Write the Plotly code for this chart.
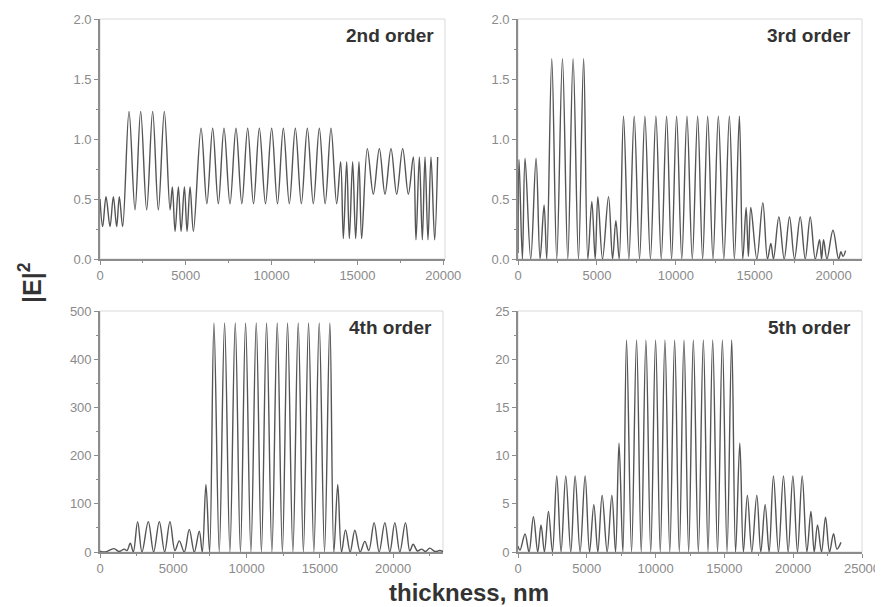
import plotly.graph_objects as go

# ---------------- data (extrema) ----------------
# 2nd order
x_2nd = [0, 155, 350, 583, 777, 971, 1126, 1320,
         1690, 2039, 2369, 2719, 3068, 3399, 3748, 4081,
         4217, 4373, 4567, 4723, 4917, 5072, 5247, 5442,
         5888, 6226, 6564, 6894, 7224, 7574, 7923, 8263, 8603, 8943, 9283, 9642,
         10001, 10341, 10681, 11030, 11380, 11730, 12079, 12428, 12778, 13118, 13458, 13788,
         14021, 14177, 14371, 14526, 14720, 14895, 15089, 15245,
         15575, 15924, 16274, 16604, 16954, 17284, 17633, 17964,
         18255, 18410, 18605, 18779, 18935, 19109, 19284, 19498, 19672]
y_2nd = [0.50, 0.27, 0.52, 0.27, 0.52, 0.27, 0.52, 0.27,
         1.23, 0.41, 1.23, 0.41, 1.23, 0.41, 1.23, 0.41,
         0.60, 0.23, 0.60, 0.23, 0.60, 0.23, 0.60, 0.23,
         1.09, 0.46, 1.09, 0.46, 1.09, 0.46, 1.09, 0.46, 1.09, 0.46, 1.09, 0.46,
         1.09, 0.46, 1.09, 0.46, 1.09, 0.46, 1.09, 0.46, 1.09, 0.46, 1.09, 0.46,
         0.81, 0.17, 0.81, 0.17, 0.81, 0.17, 0.81, 0.17,
         0.92, 0.54, 0.92, 0.54, 0.92, 0.54, 0.92, 0.54,
         0.85, 0.16, 0.85, 0.16, 0.85, 0.16, 0.85, 0.16, 0.85]

# 3rd order
x_3rd = [0, 66, 277, 447, 806, 1145, 1399, 1653, 1822,
         2140, 2457, 2817, 3155, 3491, 3833, 4160, 4425,
         4679, 4891, 5060, 5356, 5737, 5991, 6203, 6414,
         6687, 7025, 7364, 7702, 8041, 8390, 8739, 9077, 9416, 9733, 10051, 10379,
         10707, 11045, 11384, 11701, 12019, 12357, 12696, 13045, 13395, 13712, 14029, 14245,
         14457, 14600, 14754, 15136, 15516, 15810, 16024, 16190,
         16532, 16869, 17206, 17524, 17885, 18203, 18520, 18838,
         19110, 19237, 19364, 19579, 19960, 20316, 20468, 20595, 20761]
y_3rd = [0.05, 0.83, 0, 0.84, 0, 0.84, 0, 0.45, 0,
         1.67, 0, 1.67, 0, 1.67, 0, 1.67, 0,
         0.48, 0, 0.52, 0, 0.52, 0, 0.32, 0,
         1.19, 0, 1.19, 0, 1.19, 0, 1.19, 0, 1.19, 0, 1.19, 0,
         1.19, 0, 1.19, 0, 1.19, 0, 1.19, 0, 1.19, 0, 1.19, 0,
         0.43, 0.02, 0.43, 0, 0.47, 0, 0.13, 0,
         0.35, 0, 0.35, 0, 0.35, 0, 0.35, 0,
         0.16, 0, 0.16, 0, 0.24, 0, 0.06, 0.02, 0.07]

# 4th order
x_4th = [0, 341, 955, 1295, 1659, 1841, 2068, 2273,
         2568, 2864, 3295, 3659, 4046, 4409, 4773, 5114,
         5409, 5750, 6091, 6432, 6773, 6977, 7227, 7477,
         7773, 8136, 8500, 8863, 9227, 9580, 9932, 10295, 10659, 11011, 11364, 11727,
         12091, 12443, 12795, 13159, 13523, 13875, 14227, 14591, 14955, 15318, 15682, 15955,
         16220, 16477, 16750, 17068, 17386, 17750, 18068, 18341,
         18700, 19045, 19432, 19773, 20114, 20455, 20841, 21136,
         21364, 21659, 21932, 22205, 22500, 22841, 23182, 23409]
y_4th = [2, 0, 7, 1, 6, 3, 18, 0,
         63, 0, 63, 0, 63, 0, 63, 3,
         23, 0, 47, 0, 43, 0, 140, 0,
         475, 0, 475, 0, 475, 0, 475, 0, 475, 0, 475, 0,
         475, 0, 475, 0, 475, 0, 475, 0, 475, 0, 475, 0,
         140, 0, 46, 0, 45, 0, 22, 3,
         61, 0, 61, 0, 61, 0, 61, 2,
         16, 2, 6, 1, 8, 1, 3, 1]

# 5th order
x_5th = [0, 146, 510, 801, 1121, 1434, 1674, 1922, 2213, 2504,
         2817, 3130, 3472, 3836, 4150, 4514, 4878, 5198,
         5511, 5802, 6115, 6479, 6821, 7091, 7340, 7622,
         7888, 8252, 8616, 8955, 9295, 9647, 9999, 10339, 10679, 11031, 11383, 11722,
         12062, 12402, 12742, 13106, 13470, 13810, 14149, 14501, 14853, 15193, 15533, 15812,
         16120, 16380, 16671, 16991, 17355, 17646, 17960, 18251,
         18564, 18928, 19292, 19634, 19976, 20311, 20653, 20996,
         21287, 21527, 21767, 22058, 22349, 22640, 22932, 23179, 23471]
y_5th = [0.6, 0.2, 1.87, 0, 3.66, 0, 2.8, 0, 4.2, 0,
         7.9, 0, 7.9, 0, 7.9, 0, 7.9, 0,
         4.9, 0, 5.9, 0, 5.9, 0, 11.3, 0,
         22, 0, 22, 0, 22, 0, 22, 0, 22, 0, 22, 0,
         22, 0, 22, 0, 22, 0, 22, 0, 22, 0, 22, 0,
         11.3, 0, 5.9, 0, 5.9, 0, 4.9, 0,
         7.9, 0, 7.9, 0, 7.9, 0, 7.9, 0,
         4.2, 0, 2.8, 0, 3.6, 0, 1.9, 0.3, 1.0]

panel_labels = ["2nd order", "3rd order", "4th order", "5th order"]
x_ranges = [[0, 20100], [0, 21800], [0, 23400], [0, 25000]]
y_ranges = [[0, 2], [0, 2], [0, 500], [0, 25]]
y_dticks = [0.5, 0.5, 100, 5]
y_formats = [".1f", ".1f", "d", "d"]

# the page body adds an 8px margin, so the figure is drawn 8px smaller
OFF = 8
W, H = 883 - OFF, 607 - OFF
# pixel boxes in window coordinates (left, right, top, bottom)
boxes = [(100, 445, 19, 259), (518, 862, 19, 259), (100, 443, 311, 552), (518, 862, 311, 552)]

FONT = "Liberation Sans, Arial, sans-serif"
LINE = "#555555"
AXC = "#8c8c8c"

fig = go.Figure()
series = [(x_2nd, y_2nd), (x_3rd, y_3rd), (x_4th, y_4th), (x_5th, y_5th)]
for i, (xs, ys) in enumerate(series):
    sfx = "" if i == 0 else str(i + 1)
    fig.add_trace(go.Scatter(x=xs, y=ys, mode="lines", xaxis="x" + sfx, yaxis="y" + sfx,
                             line=dict(color=LINE, width=1.4, shape="spline", smoothing=1.0),
                             showlegend=False, hoverinfo="skip"))

layout = dict(width=W, height=H, margin=dict(l=0, r=0, t=0, b=0, autoexpand=False),
              paper_bgcolor="white", plot_bgcolor="white", showlegend=False)
shapes = []
annotations = []
for i, (l, r, t, b) in enumerate(boxes):
    sfx = "" if i == 0 else str(i + 1)
    xd = [(l - OFF) / W, (r - OFF) / W]
    yd = [1 - (b - OFF) / H, 1 - (t - OFF) / H]
    layout["xaxis" + sfx] = dict(
        domain=xd, range=x_ranges[i], anchor="y" + sfx, dtick=5000, tick0=0,
        automargin=False,
        showline=True, linecolor=AXC, linewidth=1.6, ticks="outside", ticklen=4,
        tickcolor=AXC, tickfont=dict(size=13, color="#8a8a8a", family=FONT),
        showgrid=False, zeroline=False, tickformat="d",
        minor=dict(ticks="outside", ticklen=2, tickcolor=AXC, dtick=2500, showgrid=False))
    layout["yaxis" + sfx] = dict(
        domain=yd, range=y_ranges[i], anchor="x" + sfx, dtick=y_dticks[i], tick0=0,
        automargin=False,
        showline=True, linecolor=AXC, linewidth=1.6, ticks="outside", ticklen=4,
        tickcolor=AXC, tickfont=dict(size=13, color="#8a8a8a", family=FONT),
        showgrid=False, zeroline=False, tickformat=y_formats[i],
        minor=dict(ticks="outside", ticklen=2, tickcolor=AXC, dtick=y_dticks[i] / 2, showgrid=False))
    shapes.append(dict(type="rect", xref="x" + sfx + " domain", yref="y" + sfx + " domain",
                       x0=0, x1=1, y0=0, y1=1, line=dict(color="#d9d9d9", width=1), layer="below"))
    annotations.append(dict(text="<b>" + panel_labels[i] + "</b>", xref="x" + sfx + " domain",
                            yref="y" + sfx + " domain", x=0.975, y=0.985, xanchor="right",
                            yanchor="top", showarrow=False,
                            font=dict(size=19, color="#333333", family=FONT)))

annotations.append(dict(text="<b>|E|</b><sup><b>2</b></sup>", xref="paper", yref="paper",
                        x=(30 - OFF) / W, y=1 - (283 - OFF) / H, showarrow=False, textangle=-90,
                        xanchor="center", yanchor="middle",
                        font=dict(size=25, color="#333333", family=FONT)))
annotations.append(dict(text="<b>thickness, nm</b>", xref="paper", yref="paper",
                        x=(469 - OFF) / W, y=1 - (592 - OFF) / H, showarrow=False,
                        xanchor="center", yanchor="middle",
                        font=dict(size=24, color="#333333", family=FONT)))
layout["shapes"] = shapes
layout["annotations"] = annotations
fig.update_layout(**layout)
fig.write_html("out.html")
